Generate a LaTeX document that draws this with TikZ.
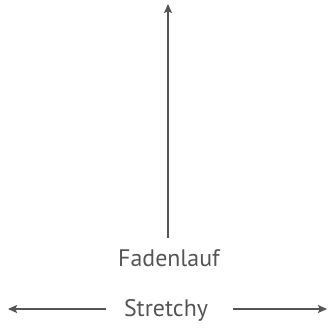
\documentclass[tikz,border=0pt]{standalone}
\usepackage{fontspec}
\setmainfont{PT Sans}
\usetikzlibrary{arrows.meta}
\definecolor{ink}{HTML}{555555}
\tikzset{
  lbl/.style={text=ink, font=\fontsize{24}{26}\selectfont, inner sep=0pt, anchor=base},
  arr/.style={draw=ink, line width=1.2bp, -{Stealth[length=9bp,width=8bp,inset=1.5bp]}}
}
\begin{document}
\begin{tikzpicture}[x=1bp,y=-1bp]
\useasboundingbox (0,0) rectangle (334,331);
\node[lbl] (faden) at (169,266) {Fadenlauf};
\node[lbl] (stretch) at (166,316) {Stretchy};
\coordinate (top) at (168,4);
\coordinate (fbot) at (168,238);
\coordinate (lstart) at (106,309);
\coordinate (lend) at (8,309);
\coordinate (rstart) at (233,309);
\coordinate (rend) at (327,309);
\draw[arr] (fbot) -- (top);
\draw[arr] (lstart) -- (lend);
\draw[arr] (rstart) -- (rend);
\end{tikzpicture}
\end{document}
